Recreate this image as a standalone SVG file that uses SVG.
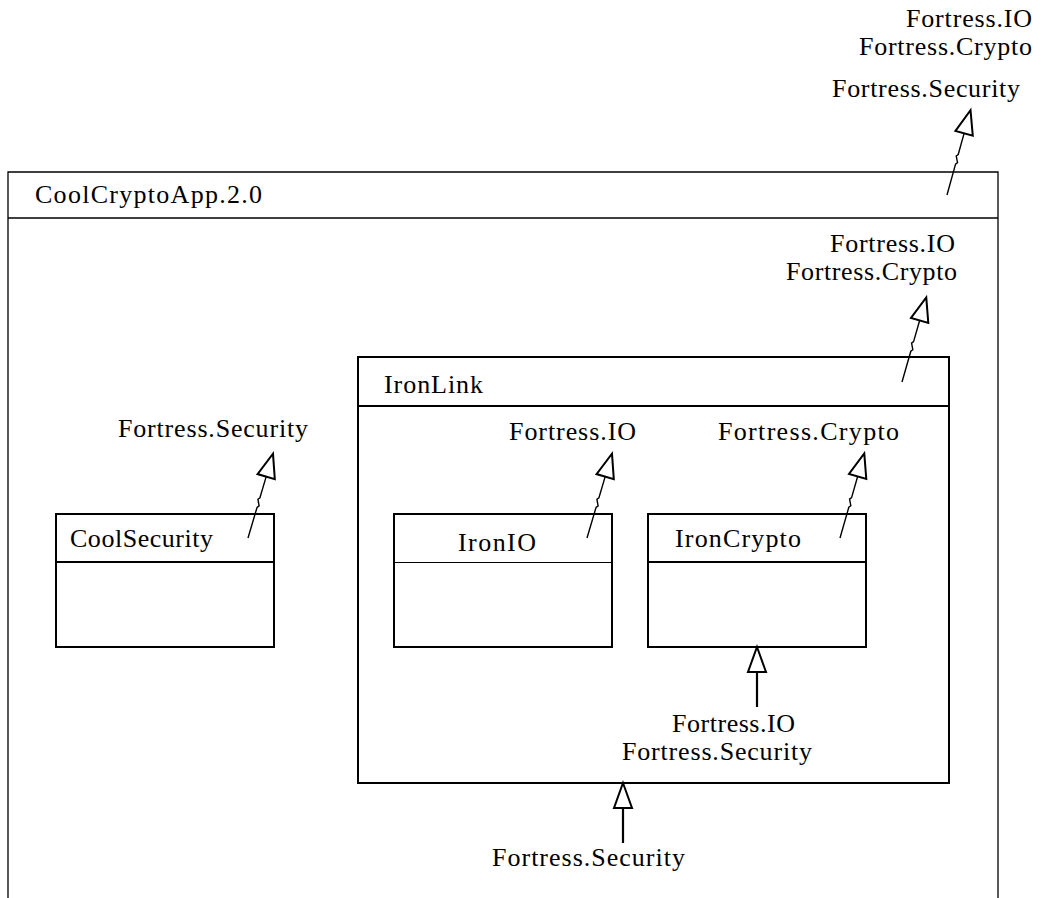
<svg xmlns="http://www.w3.org/2000/svg" xmlns:xlink="http://www.w3.org/1999/xlink" width="1045" height="898" viewBox="0 0 1045 898">
  <style>
    text { font-family: "Liberation Serif", "DejaVu Serif", serif; font-size: 26px; fill: #000; }
    .box { fill: none; stroke: #000; stroke-width: 2; }
    .outer { fill: none; stroke: #000; stroke-width: 1.3; }
    .sep { stroke: #000; stroke-width: 2; }
    .sepThin { stroke: #000; stroke-width: 1.2; }
    .shaft { fill: none; stroke: #000; stroke-width: 1.4; }
    .head { fill: #fff; stroke: #000; stroke-width: 2; stroke-linejoin: miter; }
    .stem { stroke: #000; stroke-width: 2.2; }
  </style>
  <defs>
    <!-- lightning-style requirement arrow, drawn upward from its foot at the origin -->
    <g id="bolt">
      <path class="shaft" d="M0,0 L0,-32 L1.5,-34 L-1.5,-40 L0,-42 L0,-64"/>
      <path class="head" d="M0,-88 L9,-64 L-9,-64 Z"/>
    </g>
    <!-- straight provided-interface arrow, tip at origin -->
    <g id="uparrow">
      <line class="stem" x1="0" y1="25" x2="0" y2="60"/>
      <path class="head" d="M0,0 L9,25 L-9,25 Z"/>
    </g>
  </defs>

  <g id="CoolCryptoApp">
    <path class="outer" d="M8,898 L8,172 L998,172 L998,898"/>
    <line class="outer" x1="8" y1="218" x2="998" y2="218"/>
    <text x="35" y="203" textLength="227">CoolCryptoApp.2.0</text>
  </g>

  <g id="CoolSecurity">
    <rect class="box" x="56" y="514" width="218" height="133"/>
    <line class="sep" x1="56" y1="562" x2="274" y2="562"/>
    <text x="70" y="547" textLength="143">CoolSecurity</text>
  </g>

  <g id="IronLink">
    <rect class="box" x="358" y="357" width="591" height="426"/>
    <line class="sep" x1="358" y1="406" x2="949" y2="406"/>
    <text x="384" y="393" textLength="99">IronLink</text>
  </g>

  <g id="IronIO">
    <rect class="box" x="394" y="514" width="218" height="133"/>
    <line class="sepThin" x1="394" y1="562.5" x2="612" y2="562.5"/>
    <text x="458" y="551" textLength="78">IronIO</text>
  </g>

  <g id="IronCrypto">
    <rect class="box" x="648" y="514" width="218" height="133"/>
    <line class="sep" x1="648" y1="562" x2="866" y2="562"/>
    <text x="675" y="547" textLength="126">IronCrypto</text>
  </g>

  <g id="connectors">
    <use xlink:href="#bolt" transform="translate(947,195) rotate(15.5)"/>
    <use xlink:href="#bolt" transform="translate(902,382) rotate(16)"/>
    <use xlink:href="#bolt" transform="translate(248,538) rotate(16.5)"/>
    <use xlink:href="#bolt" transform="translate(587,538) rotate(16.5)"/>
    <use xlink:href="#bolt" transform="translate(840,538) rotate(16)"/>
    <use xlink:href="#uparrow" transform="translate(757,647)"/>
    <use xlink:href="#uparrow" transform="translate(623,783)"/>
  </g>

  <g id="labels">
    <text x="906" y="27" textLength="126">Fortress.IO</text>
    <text x="859" y="55" textLength="173">Fortress.Crypto</text>
    <text x="832" y="97" textLength="188">Fortress.Security</text>

    <text x="830" y="252" textLength="125">Fortress.IO</text>
    <text x="786" y="280" textLength="171">Fortress.Crypto</text>

    <text x="118" y="437" textLength="190">Fortress.Security</text>
    <text x="509" y="440" textLength="127">Fortress.IO</text>
    <text x="718" y="440" textLength="181">Fortress.Crypto</text>

    <text x="672" y="732" textLength="123">Fortress.IO</text>
    <text x="622" y="760" textLength="190">Fortress.Security</text>

    <text x="492" y="866" textLength="193">Fortress.Security</text>
  </g>
</svg>
